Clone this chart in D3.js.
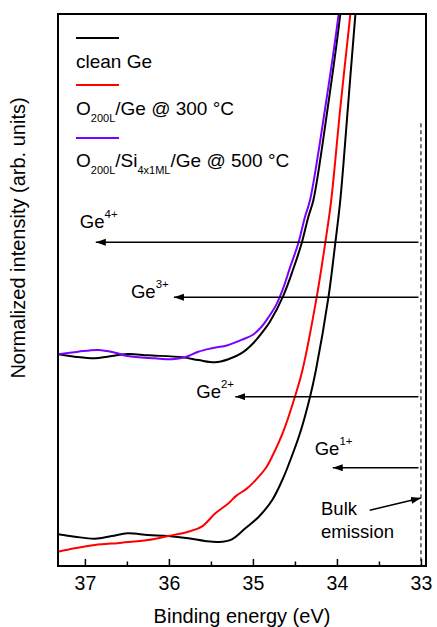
<!DOCTYPE html>
<html>
<head>
<meta charset="utf-8">
<script src="https://cdn.jsdelivr.net/npm/d3@7"></script>
<style>
  body { margin: 0; background: #fff; }
  text { font-family: "Liberation Sans", Arial, sans-serif; fill: #000; }
</style>
</head>
<body>
<svg width="437" height="627"></svg>
<script>
var svg = d3.select('svg');

// binding energy ticks
var majorTicks = [37, 36, 35, 34, 33];
var minorTicks = [36.5, 35.5, 34.5, 33.5];

// lower pair: clean Ge and O200L/Ge @ 300 C
var cleanLowE = [37.32, 37.12, 36.88, 36.68, 36.49, 36.25, 36.01, 35.77, 35.57, 35.41, 35.25, 35.09, 34.93, 34.77, 34.65, 34.60, 34.44, 34.32, 34.25, 34.10, 34.02, 33.96, 33.87, 33.78, 33.74];
var cleanLowI = [5.74, 5.31, 4.95, 5.43, 5.92, 5.62, 5.43, 5.02, 4.53, 4.35, 4.84, 6.83, 8.93, 11.96, 15.58, 17.39, 24.04, 30.67, 35.51, 48.79, 58.46, 66.3, 82.97, 100, 106];

var oxGeE = [37.32, 37.12, 36.88, 36.56, 36.25, 36.01, 35.77, 35.61, 35.45, 35.29, 35.20, 35.07, 34.96, 34.84, 34.76, 34.64, 34.50, 34.41, 34.24, 34.14, 34.07, 33.96, 33.84, 33.80];
var oxGeI = [2.59, 3.21, 3.80, 4.22, 4.71, 5.43, 6.21, 7.12, 9.5, 11.36, 12.7, 14.06, 15.7, 17.9, 20.2, 24.3, 30.67, 35.51, 48.79, 58.46, 66.0, 82.97, 100, 106];

// upper pair: clean Ge and O200L/Si4x1ML/Ge @ 500 C
var cleanUpE = [37.32, 37.12, 36.88, 36.73, 36.49, 36.25, 35.84, 35.65, 35.45, 35.30, 35.13, 35.00, 34.86, 34.80, 34.64, 34.52, 34.42, 34.34, 34.28, 34.11, 33.96, 33.92];
var cleanUpI = [38.35, 37.92, 37.63, 37.92, 38.41, 38.17, 37.81, 37.32, 36.9, 37.4, 38.6, 40.3, 42.9, 44.2, 48.9, 53.8, 58.46, 63.28, 66.3, 82.97, 100, 106];

var oxSiGeE = [37.32, 37.08, 36.84, 36.64, 36.49, 36.17, 35.96, 35.81, 35.65, 35.49, 35.30, 35.13, 35.00, 34.90, 34.84, 34.72, 34.64, 34.56, 34.46, 34.38, 34.32, 34.14, 33.98, 33.94];
var oxSiGeI = [38.35, 38.82, 39.13, 38.64, 38.04, 37.63, 37.45, 37.81, 38.82, 39.44, 40.0, 41.0, 41.9, 43.3, 44.5, 47.4, 50.3, 54.0, 58.46, 63.28, 66.3, 82.97, 100, 106];

// oxidation state arrows (tip energy, intensity level)
var stateNames = ['4+', '3+', '2+', '1+'];
var stateTipE = [36.87, 35.94, 35.21, 34.05];
var stateLevel = [58.64, 48.68, 30.67, 17.81];

var legendNames = ['clean Ge', 'O200L/Ge @ 300 °C', 'O200L/Si4x1ML/Ge @ 500 °C'];
var colors = ['#000000', '#ff0000', '#7a00ff'];

var pLeft = 58, pRight = 426, pTop = 14, pBottom = 566;

var x = d3.scaleLinear().domain([37.32, 32.94]).range([pLeft, pRight]);
var y = d3.scaleLinear().domain([0, 100]).range([pBottom, pTop]);

var defs = svg.append('defs');
defs.append('clipPath').attr('id', 'clip')
    .append('rect').attr('x', pLeft).attr('y', pTop)
    .attr('width', pRight - pLeft).attr('height', pBottom - pTop);

defs.append('marker')
    .attr('id', 'head')
    .attr('markerUnits', 'userSpaceOnUse')
    .attr('markerWidth', 12).attr('markerHeight', 8)
    .attr('refX', 10).attr('refY', 3.5)
    .attr('orient', 'auto')
    .append('path').attr('d', 'M0,0 L10,3.5 L0,7 Z').attr('fill', '#000');

function zip(es, is) {
    return es.map(function(e, i) { return {e: e, v: is[i]}; });
}

var line = d3.line()
    .x(function(d) { return x(d.e); })
    .y(function(d) { return y(d.v); })
    .curve(d3.curveCatmullRom.alpha(0.5));

var series = [
    {data: zip(cleanLowE, cleanLowI), color: colors[0]},
    {data: zip(oxGeE, oxGeI), color: colors[1]},
    {data: zip(cleanUpE, cleanUpI), color: colors[0]},
    {data: zip(oxSiGeE, oxSiGeI), color: colors[2]}
];

var plot = svg.append('g').attr('clip-path', 'url(#clip)');

// dashed bulk line at 33 eV
plot.append('line')
    .attr('x1', x(33)).attr('x2', x(33))
    .attr('y1', y(80.2)).attr('y2', y(0))
    .attr('stroke', '#222').attr('stroke-width', 1.2)
    .attr('stroke-dasharray', '4,3');

plot.selectAll('path.curve')
    .data(series)
    .enter()
    .append('path')
    .attr('class', 'curve')
    .attr('d', function(d) { return line(d.data); })
    .attr('fill', 'none')
    .attr('stroke', function(d) { return d.color; })
    .attr('stroke-width', 2);

// arrows
svg.selectAll('line.arrow')
    .data(stateTipE)
    .enter()
    .append('line')
    .attr('class', 'arrow')
    .attr('x1', x(33.03)).attr('x2', function(d) { return x(d); })
    .attr('y1', function(d, i) { return y(stateLevel[i]); })
    .attr('y2', function(d, i) { return y(stateLevel[i]); })
    .attr('stroke', '#000').attr('stroke-width', 1.5)
    .attr('marker-end', 'url(#head)');

// label offsets from arrow tip (px)
var labelDx = [-16, -43, -39, -18];
var labelDy = [-14, 1, 1, -13];
var labels = svg.selectAll('text.state')
    .data(stateNames)
    .enter()
    .append('text')
    .attr('class', 'state')
    .attr('x', function(d, i) { return x(stateTipE[i]) + labelDx[i]; })
    .attr('y', function(d, i) { return y(stateLevel[i]) + labelDy[i]; })
    .attr('font-size', 18.5);
labels.append('tspan').text('Ge');
labels.append('tspan').attr('dy', -10).attr('font-size', 11.5).text(function(d) { return d; });

// bulk emission
svg.append('line')
    .attr('x1', x(33.61)).attr('y1', y(10.1))
    .attr('x2', x(33.0)).attr('y2', y(12.3))
    .attr('stroke', '#000').attr('stroke-width', 1.5)
    .attr('marker-end', 'url(#head)');
svg.append('text').attr('x', 321).attr('y', 515).attr('font-size', 18.5).text('Bulk');
svg.append('text').attr('x', 321).attr('y', 538).attr('font-size', 18.5).text('emission');

// frame
svg.append('rect')
    .attr('x', pLeft).attr('y', pTop)
    .attr('width', pRight - pLeft).attr('height', pBottom - pTop)
    .attr('fill', 'none').attr('stroke', '#000').attr('stroke-width', 2);

// x axis, ticks pointing inward
var ax = svg.append('g').attr('transform', 'translate(0,' + pBottom + ')')
    .call(d3.axisBottom(x).tickValues(majorTicks).tickSize(-7).tickPadding(10).tickFormat(d3.format('d')));
ax.select('.domain').remove();
ax.selectAll('line').attr('stroke-width', 1.5);
ax.selectAll('text').attr('font-size', 19.5).attr('font-family', '"Liberation Sans", Arial, sans-serif');

var axm = svg.append('g').attr('transform', 'translate(0,' + pBottom + ')')
    .call(d3.axisBottom(x).tickValues(minorTicks).tickSize(-4.5).tickFormat(''));
axm.select('.domain').remove();
axm.selectAll('line').attr('stroke-width', 1.5);

svg.append('text')
    .attr('x', (pLeft + pRight) / 2).attr('y', 623)
    .attr('text-anchor', 'middle').attr('font-size', 20)
    .text('Binding energy (eV)');

svg.append('text')
    .attr('transform', 'translate(25,238) rotate(-90)')
    .attr('text-anchor', 'middle').attr('font-size', 20)
    .text('Normalized intensity (arb. units)');

// legend
var legY = [38, 85, 138];
var legTextY = [68, 115, 167];
svg.selectAll('line.leg')
    .data(legendNames)
    .enter()
    .append('line')
    .attr('class', 'leg')
    .attr('x1', 76).attr('x2', 119)
    .attr('y1', function(d, i) { return legY[i]; })
    .attr('y2', function(d, i) { return legY[i]; })
    .attr('stroke', function(d, i) { return colors[i]; })
    .attr('stroke-width', 2);

var t0 = svg.append('text').attr('x', 76).attr('y', legTextY[0]).attr('font-size', 19);
t0.append('tspan').text('clean Ge');

var t1 = svg.append('text').attr('x', 76).attr('y', legTextY[1]).attr('font-size', 19);
t1.append('tspan').text('O');
t1.append('tspan').attr('dy', 7).attr('font-size', 11).text('200L');
t1.append('tspan').attr('dy', -7).text('/Ge @ 300 °C');

var t2 = svg.append('text').attr('x', 76).attr('y', legTextY[2]).attr('font-size', 19);
t2.append('tspan').text('O');
t2.append('tspan').attr('dy', 7).attr('font-size', 11).text('200L');
t2.append('tspan').attr('dy', -7).text('/Si');
t2.append('tspan').attr('dy', 7).attr('font-size', 11).text('4x1ML');
t2.append('tspan').attr('dy', -7).text('/Ge @ 500 °C');
</script>
</body>
</html>
